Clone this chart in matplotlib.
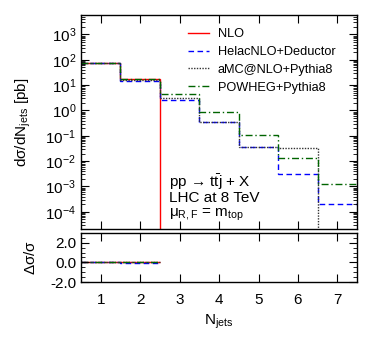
import numpy as np
import matplotlib
matplotlib.use("Agg")
import matplotlib.pyplot as plt
from matplotlib.ticker import LogLocator, MultipleLocator, NullFormatter, FormatStrFormatter

plt.rcParams["font.family"] = ["Liberation Sans", "DejaVu Sans"]
plt.rcParams["mathtext.fontset"] = "custom"
plt.rcParams["mathtext.rm"] = "Liberation Sans"
plt.rcParams["mathtext.it"] = "Liberation Sans"

edges = [0.5, 1.5, 2.5, 3.5, 4.5, 5.5, 6.5, 7.5]
nlo = [75, 17, 0, 0, 0, 0, 0]
helac = [75, 15, 2.7, 0.34, 0.035, 0.0031, 0.0002]
amc = [75, 16, 3.2, 0.34, 0.035, 0.032, 0]
powheg = [72, 18, 4.3, 0.86, 0.11, 0.013, 0.00127]

ratio_edges = [0.5, 1.5, 2.5]
r_nlo = [0.0, 0.0]
r_helac = [0.0, -0.08]
r_amc = [0.0, 0.05]
r_powheg = [0.0, 0.08]

fig = plt.figure(figsize=(3.82, 3.39), dpi=100)
ax = fig.add_axes([0.212, 0.3245, 0.723, 0.632])
axr = fig.add_axes([0.212, 0.168, 0.723, 0.145])

def step(a, e, v, **kw):
    v = np.asarray(v, float)
    v = np.where(v > 0, v, 1e-9)
    a.stairs(v, e, baseline=None, **kw)

step(ax, edges, nlo, color="#ff0000", lw=1.0, label="NLO")
step(ax, edges, helac, color="#0000ff", lw=1.0, ls=(0, (4, 2.5)), label="HelacNLO+Deductor")
step(ax, edges, amc, color="#333333", lw=1.0, ls=(0, (1, 1)), label="aMC@NLO+Pythia8")
step(ax, edges, powheg, color="#006400", lw=1.0, ls=(0, (5, 2, 1, 2)), label="POWHEG+Pythia8")

ax.set_yscale("log")
ax.set_ylim(2.1e-5, 6e3)
ax.set_xlim(0.5, 7.5)
ax.yaxis.set_minor_locator(LogLocator(base=10, subs=np.arange(2, 10), numticks=20))
ax.yaxis.set_minor_formatter(NullFormatter())
ax.set_yticks([1e-4, 1e-3, 1e-2, 1e-1, 1, 10, 100, 1000])
ax.xaxis.set_major_locator(MultipleLocator(1))
ax.set_xticklabels([])
ax.tick_params(which="both", direction="in", top=True, right=True, labelsize=11)
ax.tick_params(which="major", length=6)
ax.tick_params(which="minor", length=3)
ax.set_ylabel(r"d$\sigma$/dN$_{\rm jets}$ [pb]", fontsize=11)
ax.yaxis.set_label_coords(-0.175, 0.5)

leg = ax.legend(loc="upper right", bbox_to_anchor=(0.94, 0.96), frameon=False, fontsize=9.2,
                handlelength=1.6, labelspacing=0.45, borderaxespad=0.0, handletextpad=0.7)

ax.text(0.32, 0.196, r"pp → t$\bar{\rm t}$j + X", transform=ax.transAxes, fontsize=11)
ax.text(0.32, 0.126, "LHC at 8 TeV", transform=ax.transAxes, fontsize=11)
ax.text(0.32, 0.058, r"$\mu_{\rm R,F}$ = m$_{\rm top}$", transform=ax.transAxes, fontsize=11)

axr.stairs(r_nlo, ratio_edges, baseline=None, color="#ff0000", lw=1.0)
axr.stairs(r_helac, ratio_edges, baseline=None, color="#0000ff", lw=1.0, ls=(0, (4, 2.5)))
axr.stairs(r_amc, ratio_edges, baseline=None, color="#333333", lw=1.0, ls=(0, (1, 1)))
axr.stairs(r_powheg, ratio_edges, baseline=None, color="#006400", lw=1.0, ls=(0, (5, 2, 1, 2)))
axr.set_xlim(0.5, 7.5)
axr.set_ylim(-2.0, 3.0)
axr.set_yticks([-2.0, 0.0, 2.0])
axr.yaxis.set_major_formatter(FormatStrFormatter("%.1f"))
axr.yaxis.set_minor_locator(MultipleLocator(0.5))
axr.xaxis.set_major_locator(MultipleLocator(1))
axr.tick_params(which="both", direction="in", top=True, right=True, labelsize=11)
axr.tick_params(axis="x", which="major", pad=8)
axr.tick_params(which="major", length=6)
axr.tick_params(which="minor", length=3)
axr.set_ylabel(r"$\Delta\sigma/\sigma$", fontsize=11)
axr.yaxis.set_label_coords(-0.155, 0.5)
axr.set_xlabel(r"N$_{\rm jets}$", fontsize=11, labelpad=4)

for a in (ax, axr):
    for s in a.spines.values():
        s.set_linewidth(1.0)

fig.savefig("out.png", dpi=100)
